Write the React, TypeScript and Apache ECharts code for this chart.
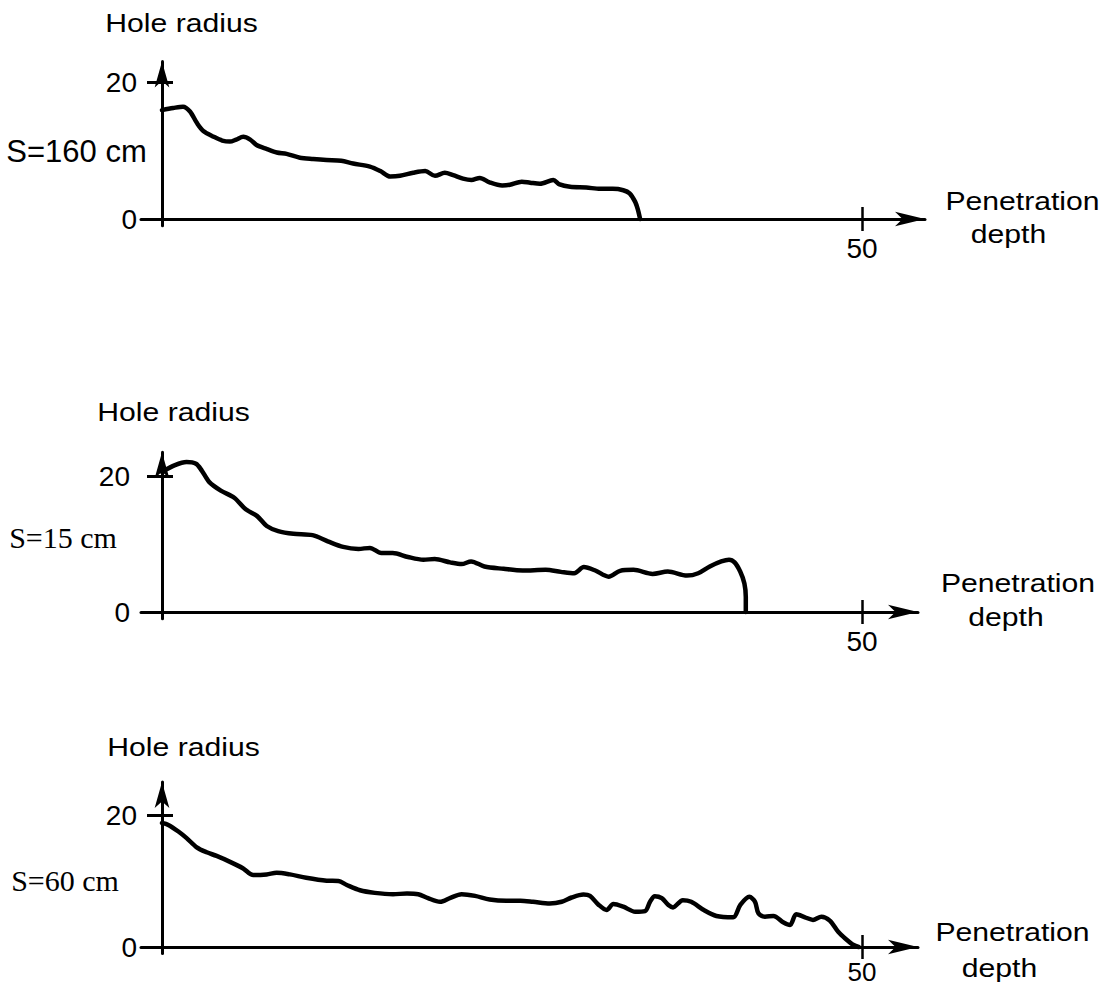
import React, { useEffect, useRef } from 'react';
import * as echarts from 'echarts';

// ---- text / tick data ----
const yTickValues = [0, 20];
const xTickValues = [50];
const yTitle = 'Hole radius';
const xTitleLines = ['Penetration', 'depth'];
const panelLabels = ['S=160 cm', 'S=15 cm', 'S=60 cm'];

// ---- series data (penetration depth, hole radius) ----
const depth160 = [0, 0.8, 1.5, 2.0, 2.5, 2.95, 3.7, 4.3, 4.85, 5.3, 5.8, 6.3, 6.75, 7.5, 8.2, 8.9, 9.85, 10.8, 11.75, 12.8, 13.65, 14.85, 15.6, 16.3, 17.0, 17.95, 18.8, 19.5, 20.2, 20.8, 21.5, 22.1, 22.7, 23.4, 24.3, 24.85, 25.7, 26.3, 27.0, 27.95, 28.4, 29.15, 30.3, 31.3, 32.2, 32.95, 33.4, 33.8, 34.0, 34.15];
const radius160 = [15.9, 16.2, 16.4, 15.7, 14.0, 12.85, 12.0, 11.45, 11.3, 11.6, 12.0, 11.6, 10.8, 10.2, 9.7, 9.5, 8.95, 8.75, 8.6, 8.5, 8.1, 7.65, 7.0, 6.2, 6.3, 6.75, 7.0, 6.3, 6.75, 6.4, 5.9, 5.7, 6.0, 5.35, 4.9, 5.0, 5.45, 5.3, 5.15, 5.7, 5.05, 4.7, 4.6, 4.4, 4.4, 4.2, 3.75, 2.5, 1.3, 0];

const depth15 = [0, 0.93, 1.75, 2.43, 2.84, 3.38, 4.2, 5.16, 5.98, 6.8, 7.48, 8.3, 9.39, 10.75, 11.84, 12.94, 14.03, 14.85, 15.66, 16.48, 17.57, 18.67, 19.48, 20.58, 21.4, 22.08, 23.03, 24.4, 25.76, 27.4, 28.49, 29.45, 30.13, 30.95, 31.9, 32.72, 33.68, 35.04, 36.13, 37.5, 38.3, 39.13, 39.95, 40.5, 40.9, 41.3, 41.6, 41.7, 41.7];
const radius15 = [20.6, 21.6, 22.06, 21.8, 20.8, 19.1, 17.85, 16.8, 15.1, 14.1, 12.65, 11.9, 11.5, 11.3, 10.4, 9.57, 9.28, 9.43, 8.68, 8.68, 8.09, 7.69, 7.79, 7.3, 7.05, 7.44, 6.69, 6.35, 6.1, 6.2, 5.9, 5.7, 6.6, 6.1, 5.2, 6.05, 6.2, 5.6, 5.95, 5.35, 5.7, 6.7, 7.44, 7.69, 7.3, 5.95, 4.2, 2.2, 0];

const depth60 = [0, 0.45, 1.17, 1.76, 2.48, 3.19, 3.9, 4.86, 5.8, 6.52, 7.48, 8.19, 9.14, 10.3, 11.76, 12.6, 13.2, 14.14, 15.2, 16.5, 17.5, 18.3, 19.0, 19.86, 20.6, 21.4, 22.36, 23.4, 24.6, 25.6, 26.5, 27.7, 28.55, 29.26, 30.1, 30.57, 31.16, 31.76, 32.24, 32.95, 33.8, 34.5, 34.86, 35.2, 35.7, 36.17, 36.5, 37.2, 37.8, 38.7, 39.6, 40.8, 41.3, 41.95, 42.36, 42.6, 43.07, 43.67, 44.4, 44.86, 45.3, 45.93, 46.5, 47.1, 47.7, 48.3, 48.8, 49.4, 49.76];
const radius60 = [18.8, 18.5, 17.5, 16.5, 15.1, 14.35, 13.8, 12.9, 11.9, 10.9, 11.0, 11.25, 11.0, 10.5, 10.05, 10.0, 9.4, 8.6, 8.2, 8.0, 8.1, 8.0, 7.4, 6.85, 7.45, 8.0, 7.75, 7.2, 7.0, 7.0, 6.85, 6.6, 6.85, 7.5, 7.95, 7.75, 6.45, 5.6, 6.5, 6.1, 5.35, 5.45, 6.85, 7.7, 7.4, 6.35, 6.0, 7.1, 6.85, 5.6, 4.7, 4.5, 6.35, 7.6, 6.85, 5.1, 4.6, 4.7, 3.7, 3.33, 4.95, 4.5, 4.1, 4.6, 4.0, 2.3, 1.3, 0.3, 0];

const SANS = '"Liberation Sans", Arial, Helvetica, sans-serif';
const SERIF = '"Liberation Serif", "Times New Roman", Times, serif';

// ---- layout (pixels) ----
const X0 = 162; // pixel of depth 0
const PX_PER_X = 14;
const X_MIN = -1.5;
const Y_MIN = -1;

const panels = [
  { depth: depth160, radius: radius160, zeroY: 219, pxPerY: 6.85, yMax: 23, xMax: 54.5, labelMargin: 4,
    xLabelMargin: 12, xLabelSize: 28,
    label: { x: 76.5, y: 151.5, font: SANS, size: 31 }, title: { x: 181.5, y: 23.5 },
    pen: { x: 1022.5, y: 201 }, dep: { x: 1008.5, y: 234 } },
  { depth: depth15, radius: radius15, zeroY: 612, pxPerY: 6.8, yMax: 23.5, xMax: 54, labelMargin: 11,
    xLabelMargin: 12, xLabelSize: 28,
    label: { x: 63, y: 537, font: SERIF, size: 30 }, title: { x: 173.5, y: 412.5 },
    pen: { x: 1018, y: 583 }, dep: { x: 1006, y: 617 } },
  { depth: depth60, radius: radius60, zeroY: 947, pxPerY: 6.6, yMax: 25, xMax: 54, labelMargin: 4,
    xLabelMargin: 8, xLabelSize: 26,
    label: { x: 65, y: 880, font: SERIF, size: 30 }, title: { x: 183.5, y: 747 },
    pen: { x: 1012.5, y: 932.5 }, dep: { x: 999.5, y: 968 } },
];

const BLACK = '#000';

function buildOption() {
  const grid: any[] = [];
  const xAxis: any[] = [];
  const yAxis: any[] = [];
  const series: any[] = [];
  const graphic: any[] = [];

  panels.forEach((p, i) => {
    grid.push({
      left: X0 + X_MIN * PX_PER_X,
      top: p.zeroY - p.yMax * p.pxPerY,
      width: (p.xMax - X_MIN) * PX_PER_X,
      height: (p.yMax - Y_MIN) * p.pxPerY,
      containLabel: false,
      outerBoundsMode: 'none',
    });
    const mainIdx = 2 * i;
    // main x axis
    xAxis.push({
      type: 'value', gridIndex: i, min: X_MIN, max: p.xMax, position: 'bottom',
      axisLine: { show: true, onZero: true, onZeroAxisIndex: mainIdx, symbol: ['none', 'arrow'], symbolSize: [11, 30],
        lineStyle: { color: BLACK, width: 3 } },
      axisTick: { show: true, customValues: xTickValues, length: 12, lineStyle: { color: BLACK, width: 2.5 } },
      axisLabel: { show: true, customValues: xTickValues, margin: p.xLabelMargin, fontSize: p.xLabelSize, lineHeight: 21,
        color: BLACK, fontFamily: SANS },
      splitLine: { show: false },
    });
    // inner tick x axis
    xAxis.push({
      type: 'value', gridIndex: i, min: X_MIN, max: p.xMax, position: 'bottom',
      axisLine: { show: true, onZero: true, onZeroAxisIndex: mainIdx, symbol: 'none',
        lineStyle: { color: 'rgba(0,0,0,0)', width: 0 } },
      axisTick: { show: true, inside: true, customValues: xTickValues, length: 12, lineStyle: { color: BLACK, width: 2.5 } },
      axisLabel: { show: false },
      splitLine: { show: false },
    });
    // main y axis
    yAxis.push({
      type: 'value', gridIndex: i, min: Y_MIN, max: p.yMax, position: 'left',
      axisLine: { show: true, onZero: true, onZeroAxisIndex: mainIdx, symbol: ['none', 'arrow'], symbolSize: [11, 26],
        lineStyle: { color: BLACK, width: 3 } },
      axisTick: { show: true, customValues: yTickValues, length: 15, lineStyle: { color: BLACK, width: 3 } },
      axisLabel: { show: true, customValues: yTickValues, margin: p.labelMargin, fontSize: 28, color: BLACK, fontFamily: SANS },
      splitLine: { show: false },
    });
    // inner tick y axis
    yAxis.push({
      type: 'value', gridIndex: i, min: Y_MIN, max: p.yMax, position: 'left',
      axisLine: { show: true, onZero: true, onZeroAxisIndex: mainIdx, symbol: 'none',
        lineStyle: { color: 'rgba(0,0,0,0)', width: 0 } },
      axisTick: { show: true, inside: true, customValues: yTickValues.filter((v) => v !== 0), length: 11,
        lineStyle: { color: BLACK, width: 3 } },
      axisLabel: { show: false },
      splitLine: { show: false },
    });

    const n = Math.min(p.depth.length, p.radius.length);
    const data: number[][] = [];
    for (let k = 0; k < n; k++) data.push([p.depth[k], p.radius[k]]);
    series.push({
      type: 'line', name: panelLabels[i], xAxisIndex: mainIdx, yAxisIndex: mainIdx, data,
      showSymbol: false, symbol: 'none', smooth: 0.3, silent: true,
      lineStyle: { color: BLACK, width: 4.5, cap: 'round', join: 'round' },
      z: 3,
    });

    const txt = (text: string, x: number, y: number, size: number, font: string, scaleX = 1) => ({
      type: 'text', x, y, scaleX, silent: true,
      style: { text, fontSize: size, fontFamily: font, fill: BLACK,
        align: 'center', verticalAlign: 'middle', textAlign: 'center', textVerticalAlign: 'middle' },
    });
    graphic.push(txt(yTitle, p.title.x, p.title.y, 26, SANS, 1.16));
    graphic.push(txt(panelLabels[i], p.label.x, p.label.y, p.label.size, p.label.font));
    graphic.push(txt(xTitleLines[0], p.pen.x, p.pen.y, 26, SANS, 1.16));
    graphic.push(txt(xTitleLines[1], p.dep.x, p.dep.y, 26, SANS, 1.16));
  });

  return {
    animation: false,
    backgroundColor: '#fff',
    grid, xAxis, yAxis, series, graphic,
  };
}

export default function App() {
  const ref = useRef<HTMLDivElement>(null);
  useEffect(() => {
    if (!ref.current) return;
    const chart = echarts.init(ref.current, null, { renderer: 'svg' });
    chart.setOption(buildOption() as any);
    return () => chart.dispose();
  }, []);
  return (
    <div
      ref={ref}
      style={{ position: 'absolute', left: 0, top: 0, width: 1105, height: 989, background: '#fff' }}
    />
  );
}
